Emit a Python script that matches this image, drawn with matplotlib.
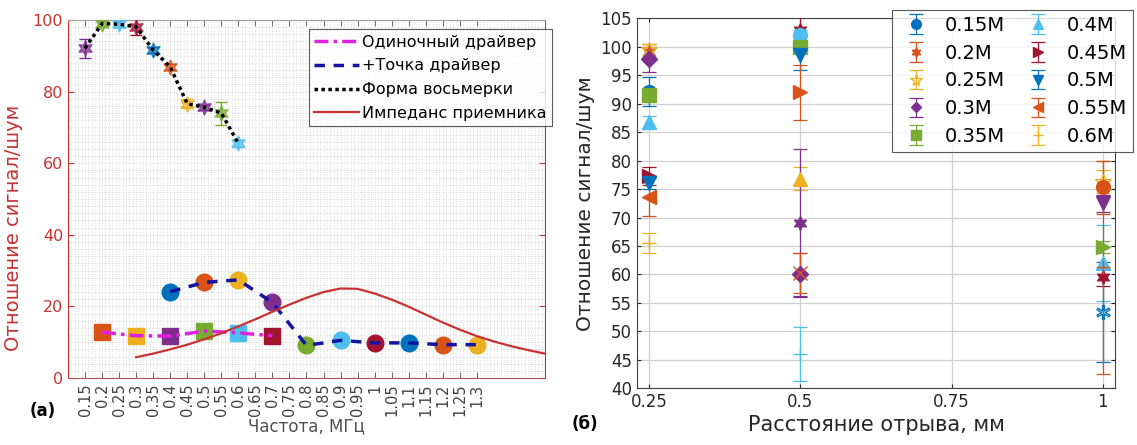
import matplotlib
matplotlib.use("Agg")
import matplotlib.pyplot as plt
from matplotlib.ticker import MultipleLocator, FixedLocator

plt.rcParams['font.family'] = ['DejaVu Sans']

# MATLAB default palette
C_BLUE = '#0072BD'
C_ORANGE = '#D95319'
C_YELLOW = '#EDB120'
C_PURPLE = '#7E2F8E'
C_GREEN = '#77AC30'
C_LBLUE = '#4DBEEE'
C_DRED = '#A2142F'
RED = '#C83232'
HEXAGRAM = (6, 1, 0)

# ---------------- (a) SNR vs frequency ----------------
freq_ticks = [round(0.15 + 0.05 * i, 2) for i in range(24)]

eight_freq = [0.15, 0.2, 0.25, 0.3, 0.35, 0.4, 0.45, 0.5, 0.55, 0.6]
eight_snr = [92.1, 99.0, 98.8, 98.1, 91.6, 86.9, 76.6, 75.6, 74.0, 65.5]
eight_err = [2.7, 0.6, 0.8, 2.2, 0.9, 0.8, 1.2, 0.7, 3.2, 1.0]

single_freq = [0.2, 0.3, 0.4, 0.5, 0.6, 0.7]
single_snr = [12.8, 11.8, 11.7, 13.1, 12.6, 11.8]

point_freq = [0.4, 0.5, 0.6, 0.7, 0.8, 0.9, 1.0, 1.1, 1.2, 1.3]
point_snr = [24.1, 26.7, 27.4, 21.1, 9.1, 10.5, 9.8, 9.8, 9.3, 9.3]

imp_freq = [0.3, 0.35, 0.4, 0.45, 0.5, 0.55, 0.6, 0.65, 0.7, 0.75, 0.8, 0.85,
            0.9, 0.95, 1.0, 1.05, 1.1, 1.15, 1.2, 1.25, 1.3, 1.35, 1.4, 1.45, 1.5]
imp_val = [5.8, 6.8, 8.0, 9.3, 10.8, 12.5, 14.4, 16.4, 18.5, 20.5, 22.4, 24.0,
           25.0, 24.9, 23.6, 21.9, 19.9, 17.7, 15.5, 13.5, 11.7, 10.2, 8.9, 7.8, 6.8]

eight_colors = [C_PURPLE, C_GREEN, C_LBLUE, C_DRED, C_BLUE, C_ORANGE, C_YELLOW,
                C_PURPLE, C_GREEN, C_LBLUE]
single_colors = [C_ORANGE, C_YELLOW, C_PURPLE, C_GREEN, C_LBLUE, C_DRED]
point_colors = [C_BLUE, C_ORANGE, C_YELLOW, C_PURPLE, C_GREEN, C_LBLUE, C_DRED,
                C_BLUE, C_ORANGE, C_YELLOW]

# ---------------- (б) SNR vs lift-off ----------------
legend_labels = ['0.15M', '0.2M', '0.25M', '0.3M', '0.35M',
                 '0.4M', '0.45M', '0.5M', '0.55M', '0.6M']

lift_025 = 0.25
snr_025 = [92.1, 99.1, 99.4, 97.8, 91.5, 86.8, 77.3, 76.0, 73.6, 65.5]
err_025 = [2.5, 1.3, 1.0, 2.2, 1.0, 1.0, 1.5, 1.0, 3.3, 1.7]

lift_05 = 0.5
snr_05 = [103.0, 102.0, 100.0, 98.5, 92.0, 76.8, 69.1, 60.0, 60.3, 46.0]
err_05 = [2.3, 1.0, 1.0, 2.5, 4.8, 2.0, 13.0, 3.7, 3.5, 4.8]

lift_1 = 1.0
snr_1 = [76.3, 75.3, 72.5, 64.8, 62.0, 59.5, 53.4, 61.3]
err_1 = [2.0, 4.7, 1.5, 1.0, 6.7, 1.5, 8.8, 18.7]

style_025 = [('o', C_BLUE), (HEXAGRAM, C_ORANGE), ('*', C_YELLOW), ('D', C_PURPLE),
             ('s', C_GREEN), ('^', C_LBLUE), ('>', C_DRED), ('v', C_BLUE),
             ('<', C_ORANGE), ('+', C_YELLOW)]
style_05 = [(HEXAGRAM, C_DRED), ('o', C_LBLUE), ('s', C_GREEN), ('v', C_BLUE),
            ('>', C_ORANGE), ('^', C_YELLOW), (HEXAGRAM, C_PURPLE), ('D', C_PURPLE),
            ('x', C_ORANGE), ('+', C_LBLUE)]
style_1 = [('*', C_YELLOW), ('o', C_ORANGE), ('v', C_PURPLE), ('>', C_GREEN),
           ('^', C_LBLUE), (HEXAGRAM, C_DRED), ('$\\ast$', C_BLUE), ('+', C_ORANGE)]

fig = plt.figure(figsize=(11.37, 4.45), dpi=100)

# ======== left panel ========
ax = fig.add_axes([0.0598, 0.1506, 0.4195, 0.8045])
ax.set_xlim(0.1, 1.5)
ax.set_ylim(0, 100)
ax.xaxis.set_major_locator(FixedLocator(freq_ticks))
ax.set_xticklabels(['%g' % v for v in freq_ticks], rotation=90, fontsize=10.5,
                   color='#404040')
ax.yaxis.set_major_locator(MultipleLocator(20))
ax.xaxis.set_minor_locator(MultipleLocator(0.01))
ax.yaxis.set_minor_locator(MultipleLocator(2))
ax.grid(which='both', color='#d4d4d4', linestyle=':', linewidth=0.6)
ax.set_axisbelow(True)
ax.tick_params(axis='y', which='major', colors=RED, labelsize=11.5, direction='in',
               left=True, right=True, length=4)
ax.tick_params(axis='x', which='major', direction='in', top=True, bottom=True,
               length=4, color='#707070', pad=4)
ax.tick_params(which='minor', length=0)
for side in ('left', 'right'):
    ax.spines[side].set_color(RED)
ax.spines['bottom'].set_color('#b05050')
ax.spines['top'].set_color('#a0a0a0')

# figure-eight: markers with error bars, then dotted line over them
for f, v, e, c in zip(eight_freq, eight_snr, eight_err, eight_colors):
    ax.errorbar(f, v, yerr=e, fmt='none', ecolor=c, elinewidth=1.0, capsize=4, zorder=3)
    ax.plot(f, v, marker=HEXAGRAM, ms=11, color=c, mfc=c, mec=c, alpha=0.75, zorder=3)
ax.plot(eight_freq, eight_snr, color='black', linestyle=(0, (1, 1)), lw=2.5,
        zorder=4, label='Форма восьмерки')

for f, v, c in zip(single_freq, single_snr, single_colors):
    ax.plot(f, v, marker='s', ms=11, color=c, zorder=3)
ax.plot(single_freq, single_snr, color='#E020E0', linestyle=(0, (4, 1.5, 1, 1.5)),
        lw=2.5, zorder=4, label='Одиночный драйвер')

for f, v, c in zip(point_freq, point_snr, point_colors):
    ax.plot(f, v, marker='o', ms=12, color=c, zorder=3)
ax.plot(point_freq, point_snr, color='#1414A0', linestyle=(0, (3, 2.5)), lw=2.5,
        zorder=4, label='+Точка драйвер')

ax.plot(imp_freq, imp_val, color=RED, lw=1.6, zorder=4, label='Импеданс приемника')

h, l = ax.get_legend_handles_labels()
order = [l.index('Одиночный драйвер'), l.index('+Точка драйвер'),
         l.index('Форма восьмерки'), l.index('Импеданс приемника')]
leg = ax.legend([h[i] for i in order], [l[i] for i in order], loc='upper right',
                bbox_to_anchor=(1.015, 0.975), fontsize=11.5, frameon=True,
                fancybox=False, edgecolor='#303030', handlelength=2.8,
                handletextpad=0.2, borderpad=0.35, labelspacing=0.55,
                borderaxespad=0)
leg.get_frame().set_linewidth(0.8)

ax.set_ylabel('Отношение сигнал/шум', color=RED, fontsize=14, labelpad=6)
ax.yaxis.set_label_coords(-0.095, 0.42)
ax.set_xlabel('Частота, МГц', color='#505050', fontsize=12, labelpad=1)
fig.text(0.026, 0.065, '(a)', fontsize=12, fontweight='bold')

# ======== right panel ========
bx = fig.add_axes([0.5602, 0.1274, 0.4204, 0.8315])
bx.set_xlim(0.23, 1.02)
bx.set_ylim(40, 105)
bx.set_xticks([0.25, 0.5, 0.75, 1.0])
bx.set_xticklabels(['0.25', '0.5', '0.75', '1'])
bx.yaxis.set_major_locator(MultipleLocator(5))
bx.grid(True, color='#d0d0d0', linewidth=0.9)
bx.set_axisbelow(True)
bx.tick_params(labelsize=12, colors='#262626', direction='in', top=True,
               right=True, length=3)
for s in bx.spines.values():
    s.set_color('#404040')
    s.set_linewidth(0.8)


def draw_point(axis, x, v, e, marker, color, label=None):
    filled = marker not in ('+', 'x', '*', '$\\ast$')
    ms = 10 if marker != 'D' else 8
    if marker == '*':
        ms = 12
    return axis.errorbar(x, v, yerr=e, marker=marker, ms=ms, color=color,
                         mfc=color if filled else 'none', mec=color, ecolor=color,
                         elinewidth=0.9, capsize=5, capthick=0.9,
                         linestyle='none', label=label, zorder=3)


handles = []
for v, e, (m, c), lab in zip(snr_025, err_025, style_025, legend_labels):
    handles.append(draw_point(bx, lift_025, v, e, m, c, lab))
for v, e, (m, c) in zip(snr_05, err_05, style_05):
    draw_point(bx, lift_05, v, e, m, c)
for v, e, (m, c) in zip(snr_1, err_1, style_1):
    draw_point(bx, lift_1, v, e, m, c)

leg2 = bx.legend(handles, legend_labels, ncol=2, loc='upper right',
                 bbox_to_anchor=(1.038, 1.022), fontsize=14, frameon=True,
                 fancybox=False, edgecolor='#303030', handlelength=1.8,
                 handletextpad=0.6, columnspacing=0.8, borderpad=0.3,
                 labelspacing=0.45, borderaxespad=0, markerscale=0.7)
leg2.get_frame().set_linewidth(0.8)

bx.set_ylabel('Отношение сигнал/шум', fontsize=14.5, color='#262626', labelpad=4)
bx.set_xlabel('Расстояние отрыва, мм', fontsize=15, color='#262626', labelpad=3)
fig.text(0.503, 0.035, '(б)', fontsize=12, fontweight='bold')

fig.savefig('out.png', dpi=100)
